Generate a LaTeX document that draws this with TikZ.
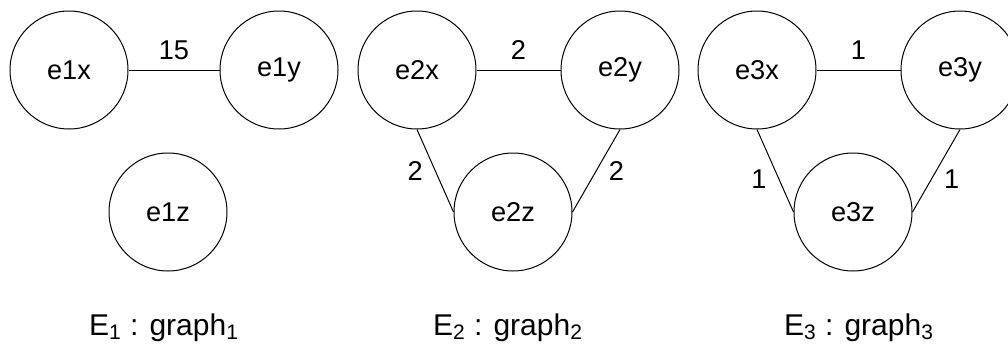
\documentclass[tikz,border=0pt]{standalone}
\usepackage{fontspec}
\setmainfont{Liberation Sans}
\usetikzlibrary{positioning}

\begin{document}
\begin{tikzpicture}[x=0.5pt, y=-0.5pt,
    vertex/.style={draw, circle, minimum size=59pt, inner sep=0pt,
      line width=0.5pt, font=\fontsize{13.6}{16}\selectfont},
    weight/.style={inner sep=2pt, font=\fontsize{13.6}{16}\selectfont},
    edge/.style={line width=0.5pt},
    caption/.style={font=\fontsize{15}{18}\selectfont}
  ]
  \useasboundingbox (0,0) rectangle (1008,349);
  % graph 1
  \node[vertex] (e1x) at (69,70) {e1x};
  \node[vertex, right=45.5pt of e1x] (e1y) {e1y};
  \node[vertex] (e1z) at (168,212) {e1z};
  \draw[edge] (e1x) -- node[weight, above=3pt] {15} (e1y);
  % graph 2
  \node[vertex] (e2x) at (417,70) {e2x};
  \node[vertex, right=42pt of e2x] (e2y) {e2y};
  \node[vertex] (e2z) at (513,212) {e2z};
  \draw[edge] (e2x) -- node[weight, above=3pt] {2} (e2y);
  \draw[edge] (e2x.south) -- node[weight, left=4pt] {2} (e2z.west);
  \draw[edge] (e2y.south) -- node[weight, right=4pt] {2} (e2z.east);
  % graph 3
  \node[vertex] (e3x) at (757,70) {e3x};
  \node[vertex, right=42pt of e3x] (e3y) {e3y};
  \node[vertex] (e3z) at (853,212) {e3z};
  \draw[edge] (e3x) -- node[weight, above=3pt] {1} (e3y);
  \draw[edge] (e3x.south) -- node[weight, pos=0.6, left=4pt] {1} (e3z.west);
  \draw[edge] (e3y.south) -- node[weight, pos=0.6, right=4pt] {1} (e3z.east);
  % captions
  \node[caption, anchor=base] (cap1) at (164,335) {E\textsubscript{1} : graph\textsubscript{1}};
  \node[caption, anchor=base] (cap2) at (508,335) {E\textsubscript{2} : graph\textsubscript{2}};
  \node[caption, anchor=base] (cap3) at (859,335) {E\textsubscript{3} : graph\textsubscript{3}};
\end{tikzpicture}
\end{document}
